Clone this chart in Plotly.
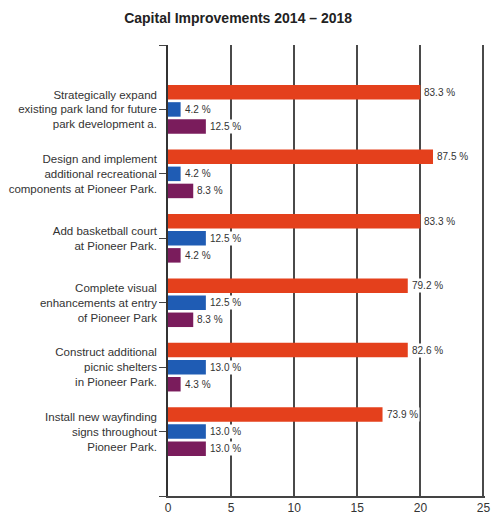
import plotly.graph_objects as go

# Survey: capital improvement priorities, 2014 - 2018
projects = [
    "Strategically expand<br>existing park land for future<br>park development a.",
    "Design and implement<br>additional recreational<br>components at Pioneer Park.",
    "Add basketball court<br>at Pioneer Park.",
    "Complete visual<br>enhancements at entry<br>of Pioneer Park",
    "Construct additional<br>picnic shelters<br>in Pioneer Park.",
    "Install new wayfinding<br>signs throughout<br>Pioneer Park.",
]
respondents = [24, 24, 24, 24, 23, 23]
high_priority = [20, 21, 20, 19, 19, 17]
medium_priority = [1, 1, 3, 3, 3, 3]
low_priority = [3, 2, 1, 2, 1, 3]

series = [
    ("High", high_priority, "#e4401c", -0.265),
    ("Medium", medium_priority, "#1f5cb4", 0.0),
    ("Low", low_priority, "#7a1c5c", 0.265),
]
x_ticks = [0, 5, 10, 15, 20, 25]

fig = go.Figure()
annotations = []
for name, counts, color, offset in series:
    ys = [i + offset for i in range(len(projects))]
    fig.add_trace(go.Bar(
        x=counts, y=ys, orientation="h", width=0.225, name=name,
        marker=dict(color=color, line=dict(width=0)),
        showlegend=False, hoverinfo="skip",
    ))
    for c, n, y in zip(counts, respondents, ys):
        annotations.append(dict(
            x=c, y=y, xref="x", yref="y", text=f"{c / n * 100:.1f} %",
            showarrow=False, xanchor="left", xshift=2, bgcolor="white",
            borderpad=1, font=dict(family="Liberation Sans Narrow, Liberation Sans", size=10, color="#333"),
        ))

n = len(projects)
fig.update_layout(
    width=491, height=518,
    margin=dict(l=168, r=1, t=45, b=22),
    paper_bgcolor="white", plot_bgcolor="white",
    barmode="overlay",
    title=dict(text="<b>Capital Improvements 2014 – 2018</b>", x=0.485, xanchor="center",
               y=0.965, yanchor="middle",
               font=dict(family="Liberation Sans", size=14, color="#222")),
    annotations=annotations,
    xaxis=dict(
        range=[0, 25.12], tickvals=x_ticks, showgrid=True, gridcolor="#4a4a4a", gridwidth=1.5,
        zeroline=False, showline=True, linecolor="#444", linewidth=1.5,
        ticks="", ticklabeloverflow="allow",
        tickfont=dict(family="Liberation Sans", size=12, color="#333"),
    ),
    yaxis=dict(
        range=[n, -1], tickvals=list(range(-1, n + 1)),
        ticktext=[""] + projects + [""],
        showgrid=False, zeroline=False, showline=True, linecolor="#333", linewidth=1.5,
        ticks="outside", ticklen=7, tickcolor="#444", tickwidth=1.2,
        tickfont=dict(family="Liberation Sans", size=11.5, color="#333"),
    ),
)

fig.write_html("out.html")
